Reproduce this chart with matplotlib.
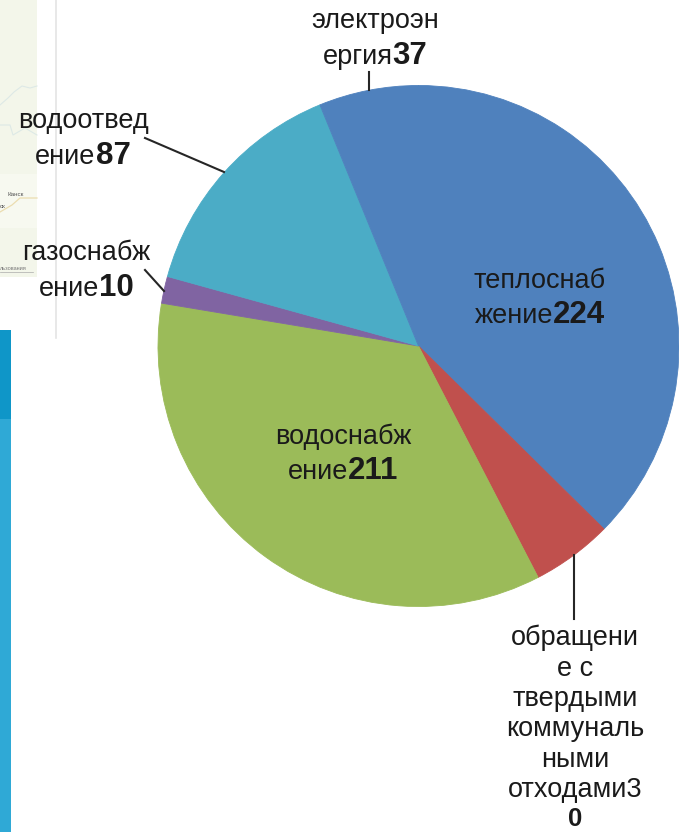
import matplotlib
matplotlib.use('Agg')
import matplotlib.pyplot as plt
from matplotlib.patches import Rectangle

plt.rcParams['font.family'] = ['Liberation Sans', 'DejaVu Sans']

# значения секторов, по часовой стрелке от верха
values = [224, 30, 211, 10, 87, 37]
colors = ['#4F81BD', '#C0504D', '#9BBB59', '#8064A2', '#4BACC6', '#4F81BD']

W, H = 679, 832
CX, CY, R = 418.5, 346, 260.5

fig = plt.figure(figsize=(W / 100, H / 100), dpi=100)
ax = fig.add_axes([0, 0, 1, 1])
ax.set_xlim(0, W)
ax.set_ylim(0, H)
ax.axis('off')


def yy(y):
    return H - y


# остатки слайда слева: карта, линия, синяя полоса
ax.add_patch(Rectangle((0, yy(277)), 37, 277, color='#F3F6EA', lw=0, zorder=0))
ax.add_patch(Rectangle((0, yy(228)), 37, 54, color='#F7F9F0', lw=0, zorder=0))
ax.plot([55.5, 55.5], [H, yy(338)], color='#E4E4E4', lw=1.2, zorder=0)
ax.add_patch(Rectangle((0, yy(419)), 11, 89, color='#0F96C8', lw=0, zorder=0))
ax.add_patch(Rectangle((0, 0), 11, H - 419, color='#2FA9D6', lw=0, zorder=0))
ax.plot([0, 8, 14, 22, 30, 37], [yy(105), yy(98), yy(92), yy(86), yy(88), yy(86)],
        color='#DDE9E6', lw=0.8, zorder=0)
ax.plot([0, 10, 13, 25, 37], [yy(125), yy(125), yy(135), yy(128), yy(135)],
        color='#DDE9E6', lw=0.8, zorder=0)
ax.plot([0, 12, 20, 37], [yy(212), yy(205), yy(198), yy(198)], color='#EBDDB0', lw=0.9, zorder=0)
ax.plot([0, 33], [yy(272), yy(272)], color='#AAAAAA', lw=0.5, zorder=0)
ax.text(16, yy(194), 'Канск', fontsize=4.5, ha='center', va='center', color='#555555')
ax.text(0, yy(207), 'ск', fontsize=4.5, ha='left', va='center', color='#555555')
ax.text(0, yy(269), 'льзования', fontsize=4, ha='left', va='center', color='#777777')

wedges, _ = ax.pie(values, colors=colors, startangle=90, counterclock=False,
                   center=(CX, yy(CY)), radius=R, frame=False)
for w in wedges:
    w.set_edgecolor(w.get_facecolor())
    w.set_linewidth(0.6)
ax.set_xlim(0, W)
ax.set_ylim(0, H)
ax.set_aspect('equal')
ax.axis('off')

# линии выносок
for x0, y0, x1, y1 in [(368.5, 90, 368.5, 72), (224, 172, 145, 138),
                       (164, 291, 145, 270), (573.5, 555, 573.5, 619)]:
    ax.plot([x0, x1], [yy(y0), yy(y1)], color='#262626', lw=1.5, zorder=5)

FS = 19.5
FSB = 22.5
TXT = '#1A1A1A'


def label(x, y, lines, step=36):
    # строки: (обычный текст, жирный текст), y - базовая линия первой строки
    for i, (plain, bold) in enumerate(lines):
        ty = yy(y + i * step)
        if bold:
            t = ax.text(x, ty, plain, fontsize=FS, ha='left', va='baseline', color=TXT)
            b = ax.text(x, ty, bold, fontsize=FSB, fontweight='bold', ha='left',
                        va='baseline', color=TXT)
            fig.canvas.draw()
            inv = ax.transData.inverted()
            w1 = inv.transform(t.get_window_extent().get_points())
            w2 = inv.transform(b.get_window_extent().get_points())
            wt = w1[1, 0] - w1[0, 0]
            wb = w2[1, 0] - w2[0, 0]
            t.set_x(x - (wt + wb) / 2)
            b.set_x(x - (wt + wb) / 2 + wt)
        else:
            ax.text(x, ty, plain, fontsize=FS, ha='center', va='baseline', color=TXT)


label(375, 28, [('электроэн', ''), ('ергия', '37')])
label(83, 128, [('водоотвед', ''), ('ение', '87')])
label(86, 260, [('газоснабж', ''), ('ение', '10')])
label(540, 288, [('теплоснаб', ''), ('жение', '224')], step=35)
label(343, 444, [('водоснабж', ''), ('ение', '211')], step=35)
label(575, 645, [('обращени', ''), ('е с', ''), ('твердыми', ''), ('коммуналь', ''),
                 ('ными', '')], step=30.5)
ax.text(575, yy(797), 'отходами3', fontsize=FS, ha='center', va='baseline', color=TXT)
ax.text(575, yy(826), '0', fontsize=18.5, fontweight='bold', ha='center', va='baseline',
        color=TXT)

fig.savefig('out.png', dpi=100)
